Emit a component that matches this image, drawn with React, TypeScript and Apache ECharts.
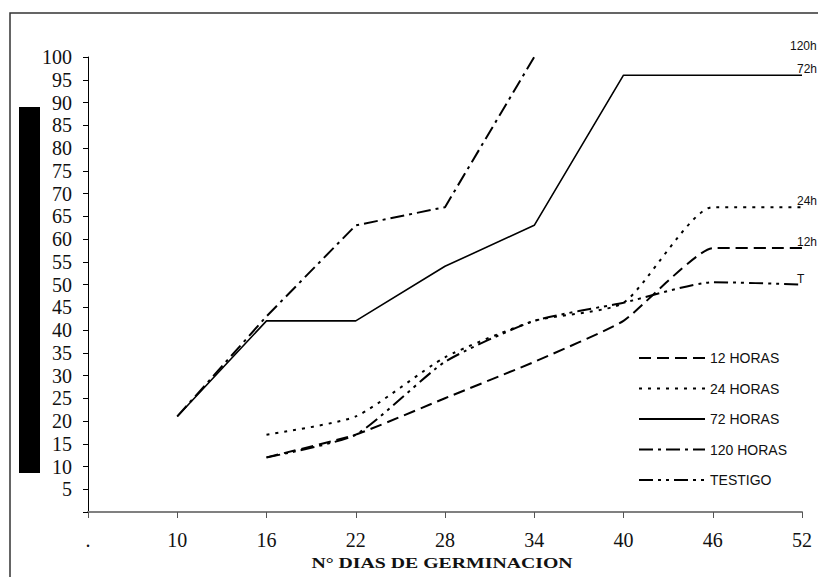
import React, { useEffect, useRef } from "react";
import * as echarts from "echarts";

const categories = [".", "10", "16", "22", "28", "34", "40", "46", "52"];
const horas12 = [null, null, 12, 17, 25, 33, 42, 58, 58];
const horas24 = [null, null, 17, 21, 34, 42, 46, 67, 67];
const horas72 = [null, 21, 42, 42, 54, 63, 96, 96, 96];
const horas120 = [null, 21, 43, 63, 67, 100, null, null, null];
const testigo = [null, null, 12, 17, 33, 42, 46, 50.5, 50];
const seriesNames = ["12 HORAS", "24 HORAS", "72 HORAS", "120 HORAS", "TESTIGO"];
const endLabels = ["12h", "24h", "72h", "120h", "T"];
const xTitle = "N° DIAS DE GERMINACION";

const endLabelStyle = {
  show: true,
  fontFamily: "Liberation Sans",
  fontSize: 12,
  color: "#111",
  distance: 0,
  offset: [-5, -6],
};

export default function App() {
  const ref = useRef<HTMLDivElement>(null);
  useEffect(() => {
    document.body.style.margin = "0";
    const chart = echarts.init(ref.current!, null, { renderer: "svg" });
    const mk = (i: number, data: (number | null)[], dash: any, width: number, smooth: number | boolean) => ({
      name: seriesNames[i],
      type: "line",
      data,
      symbol: "none",
      smooth,
      lineStyle: { color: "#000", width, type: dash },
      itemStyle: { color: "#000" },
      endLabel: { ...endLabelStyle, formatter: endLabels[i] },
    });
    const s120: any = mk(3, horas120, [14, 5, 3, 5], 2, false);
    s120.endLabel = { show: false };
    s120.markPoint = {
      symbol: "circle",
      symbolSize: 0,
      data: [{ coord: [8, 100] }],
      label: {
        show: true,
        position: "right",
        formatter: endLabels[3],
        fontFamily: "Liberation Sans",
        fontSize: 12,
        color: "#111",
        distance: 0,
        offset: [-12, -11],
      },
    };
    chart.setOption({
      animation: false,
      backgroundColor: "#fff",
      grid: { left: 88, right: 16, top: 57, bottom: 65, containLabel: false },
      legend: {
        orient: "vertical",
        left: 638,
        top: 351,
        padding: 0,
        itemWidth: 66,
        itemHeight: 14,
        itemGap: 16.5,
        data: seriesNames,
        itemStyle: { opacity: 0, borderWidth: 0 },
        textStyle: { fontFamily: "Liberation Sans", fontSize: 14, color: "#111" },
      },
      xAxis: {
        type: "category",
        data: categories,
        boundaryGap: false,
        axisLine: { lineStyle: { color: "#808080", width: 2 } },
        axisTick: { show: true, length: 6, lineStyle: { color: "#555" } },
        axisLabel: {
          fontFamily: "'Liberation Serif', serif",
          fontSize: 20,
          color: "#111",
          margin: 18,
          interval: 0,
        },
        splitLine: { show: false },
      },
      yAxis: {
        type: "value",
        min: 0,
        max: 100,
        interval: 5,
        axisLine: { show: true, lineStyle: { color: "#000", width: 1 } },
        axisTick: { show: true, length: 5, lineStyle: { color: "#000" } },
        axisLabel: {
          fontFamily: "'Liberation Serif', serif",
          fontSize: 20,
          color: "#111",
          margin: 16,
          formatter: (v: number) => (v === 0 ? "" : String(v)),
        },
        splitLine: { show: false },
      },
      graphic: [
        {
          type: "rect",
          silent: true,
          z: -10,
          shape: { x: 10, y: 13, width: 900, height: 700 },
          style: { fill: "none", stroke: "#333", lineWidth: 1.5 },
        },
        {
          type: "rect",
          silent: true,
          shape: { x: 19, y: 107, width: 21, height: 366 },
          style: { fill: "#000" },
        },
        {
          type: "text",
          silent: true,
          x: 442,
          y: 563,
          scaleX: 1.32,
          style: {
            text: xTitle,
            font: 'bold 15px "Liberation Serif"',
            fill: "#111",
            align: "center",
            verticalAlign: "middle",
          },
        },
      ],
      series: [
        mk(0, horas12, [12, 6], 2, 0.15),
        mk(1, horas24, [3, 6], 2, 0.2),
        mk(2, horas72, "solid", 1.6, false),
        s120,
        mk(4, testigo, [14, 5, 3, 5, 3, 5], 2, 0.2),
      ],
    });
    return () => chart.dispose();
  }, []);
  return (
    <div
      ref={ref}
      style={{ position: "fixed", left: 0, top: 0, width: 818, height: 577, background: "#fff" }}
    />
  );
}
